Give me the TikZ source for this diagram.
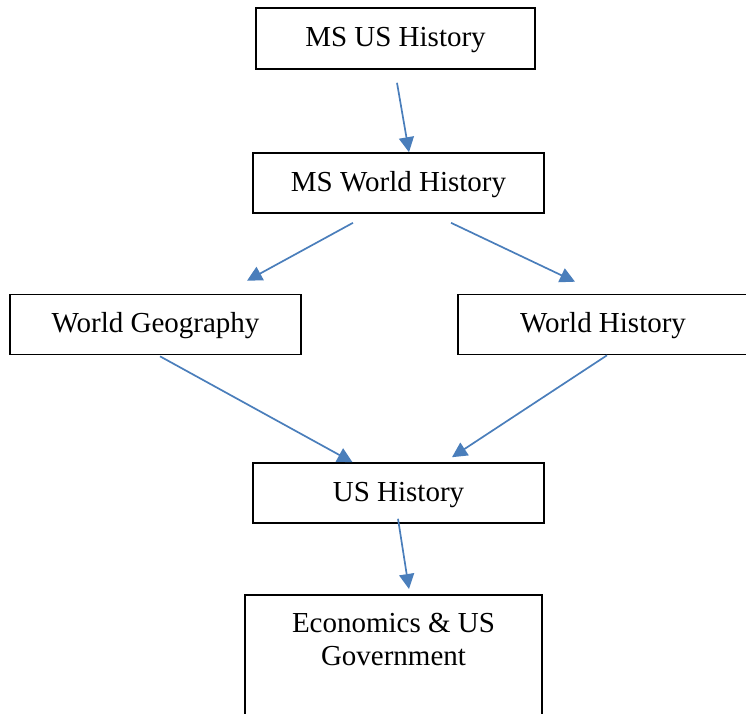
\documentclass[tikz,border=0pt]{standalone}
\usepackage{fontspec}
\setmainfont{Liberation Serif}
\usetikzlibrary{shapes,arrows,positioning,calc,arrows.meta}
\definecolor{ArrowBlue}{RGB}{74,126,187}
\tikzset{course layout/.style={%
    y=-1pt,
    x=1pt,
    every node/.style={%
        rectangle, draw=black, text=black, line width=1.6pt, minimum height=60pt,
        minimum width=291pt, inner sep=4pt, text height=22pt, text depth=6pt,
        font=\fontsize{29}{33}\selectfont
    },
    every path/.style={%
        ArrowBlue, line width=1.7pt, -{Triangle[width=15pt,length=15pt]}
    }
}}

\begin{document}
\begin{tikzpicture}[course layout]
            \useasboundingbox [draw=none] (0,0) rectangle (746,713);

            \node (msus) at (395.5,38.5) [minimum width=279pt, minimum height=61pt] {MS US History};
            \node (msworld) at (398.5,183) {MS World History};
            \node (geo) at (155.5,324.5) {World Geography};
            \node (worldhist) at (603,324.5) [minimum width=290pt] {World History};
            \node (ushist) at (398.5,493) {US History};
            \node (econ) at (393.5,594) [anchor=north, minimum width=297pt, minimum height=0pt, align=center,
                inner ysep=18pt, text height=, text depth=110pt] {Economics \& US\\Government};

            \draw ([xshift=1.5pt,yshift=-13pt]msus.south) -- ([xshift=10.5pt]msworld.north);
            \draw ([xshift=-45.5pt,yshift=-9pt]msworld.south) -- ([xshift=91.5pt,yshift=13pt]geo.north);
            \draw ([xshift=52.5pt,yshift=-9pt]msworld.south) -- ([xshift=-28pt,yshift=12pt]worldhist.north);
            \draw ([xshift=4.5pt,yshift=-1pt]geo.south) -- ([xshift=-46pt]ushist.north);
            \draw ([xshift=4pt]worldhist.south) -- ([xshift=53.5pt,yshift=5pt]ushist.north);
            \draw ([xshift=-0.5pt,yshift=5pt]ushist.south) -- ([xshift=15.5pt,yshift=5pt]econ.north);
        \end{tikzpicture}
\end{document}
